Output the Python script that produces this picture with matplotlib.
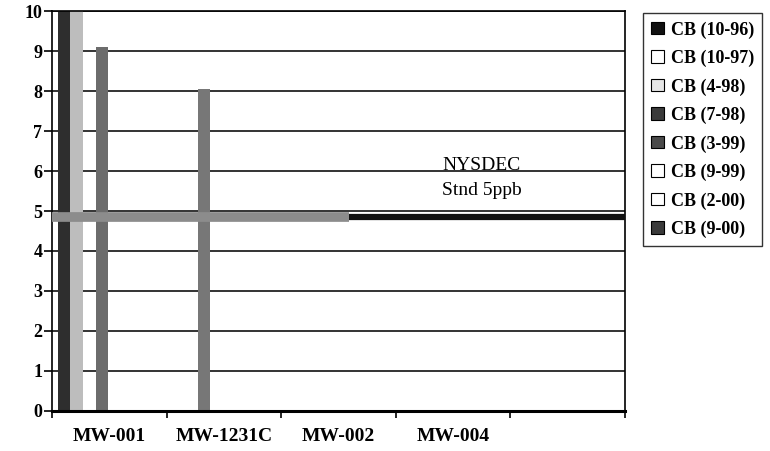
import numpy as np
import matplotlib.pyplot as plt
from matplotlib.patches import Patch

# --- data ---
wells = ["MW-001", "MW-1231C", "MW-002", "MW-004", ""]
series = ["CB (10-96)", "CB (10-97)", "CB (4-98)", "CB (7-98)",
          "CB (3-99)", "CB (9-99)", "CB (2-00)", "CB (9-00)"]
cb_10_96 = [10.4, 0, 0, 0, 0]
cb_10_97 = [10.4, 0, 0, 0, 0]
cb_4_98 = [0, 8.05, 0, 0, 0]
cb_7_98 = [9.1, 0, 0, 0, 0]
cb_3_99 = [0, 0, 0, 0, 0]
cb_9_99 = [0, 0, 0, 0, 0]
cb_2_00 = [0, 0, 0, 0, 0]
cb_9_00 = [0, 0, 0, 0, 0]
values = [cb_10_96, cb_10_97, cb_4_98, cb_7_98, cb_3_99, cb_9_99, cb_2_00, cb_9_00]

std_value = 4.85      # NYSDEC standard line (5 ppb)
std_split = 2.09      # where the scanned line turns from gray to black

bar_colors = ["#2e2e2e", "#bdbdbd", "#777777", "#6c6c6c",
              "#555555", "#f0f0f0", "#f5f5f5", "#444444"]
legend_colors = ["#111111", "#ffffff", "#e6e6e6", "#3a3a3a",
                 "#4a4a4a", "#ffffff", "#ffffff", "#3a3a3a"]

plt.rcParams["font.family"] = ["Liberation Serif", "DejaVu Serif"]

fig = plt.figure(figsize=(7.7, 4.51), dpi=100)
ax = fig.add_axes([0.0675, 0.0887, 0.7442, 0.8869])

x = np.arange(len(wells))
width = 0.11
for i, (vals, color) in enumerate(zip(values, bar_colors)):
    offset = -0.45 + i * width + width / 2
    ax.bar(x + offset, vals, width=width, color=color, edgecolor="none", zorder=2)

# standard line, gray then black as in the scan
ax.plot([-0.5, std_split], [std_value, std_value], color="#8c8c8c",
        linewidth=7, solid_capstyle="butt", zorder=3)
ax.plot([std_split, len(wells) - 0.5], [std_value, std_value], color="#111111",
        linewidth=4.5, solid_capstyle="butt", zorder=3)

ax.text(3.25, 6.03, "NYSDEC", ha="center", va="baseline", fontsize=14)
ax.text(3.25, 5.4, "Stnd 5ppb", ha="center", va="baseline", fontsize=14)

ax.set_xlim(-0.5, len(wells) - 0.5)
ax.set_ylim(0, 10)
ax.set_yticks(range(0, 11))
ax.yaxis.grid(True, color="#111111", linewidth=1.2, zorder=1)
ax.set_axisbelow(True)

ax.set_xticks(x)
ax.set_xticklabels(wells, fontsize=14, fontweight="bold")
ax.set_xticks(np.arange(-0.5, len(wells)), minor=True)
ax.tick_params(axis="x", which="major", length=0, pad=12)
ax.tick_params(axis="x", which="minor", length=5, width=1.2, direction="out")
ax.tick_params(axis="y", length=6, width=1.2, pad=1, labelsize=13)
for lbl in ax.get_yticklabels():
    lbl.set_fontweight("bold")

for side in ["left", "right", "top"]:
    ax.spines[side].set_linewidth(1.2)
ax.spines["bottom"].set_linewidth(2.2)

handles = [Patch(facecolor=c, edgecolor="black", linewidth=0.8) for c in legend_colors]
leg = fig.legend(handles, series, loc="upper left", bbox_to_anchor=(0.835, 0.971),
                 prop={"weight": "bold", "size": 13}, frameon=True, fancybox=False,
                 edgecolor="black", handlelength=0.7, handleheight=0.7,
                 handletextpad=0.4, labelspacing=0.62, borderpad=0.45,
                 borderaxespad=0)
leg.get_frame().set_linewidth(1.0)

plt.savefig("out.png", dpi=100)
